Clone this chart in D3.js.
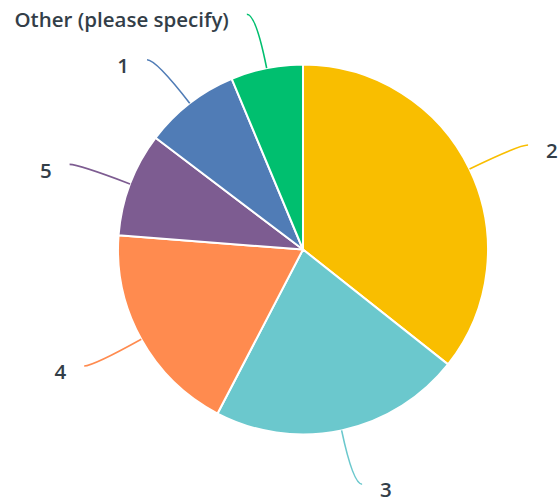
<!DOCTYPE html>
<html>
<head>
<meta charset="utf-8">
<script src="https://cdn.jsdelivr.net/npm/d3@7"></script>
<style>
  html, body { margin: 0; padding: 0; background: #fff; }
  svg { display: block; }
</style>
</head>
<body>
<svg id="chart" width="559" height="504"></svg>
<script>
const categories = ["2", "3", "4", "5", "1", "Other (please specify)"];
const values = [35.7, 22.0, 18.6, 9.1, 8.4, 6.3];
const colors = ["#F9BE00", "#6BC8CD", "#FF8B4F", "#7D5C91", "#507CB6", "#00BF6F"];

const W = 559, H = 504;
const cx = 303, cy = 249.5, R = 185;

const svg = d3.select("#chart");
const g = svg.append("g").attr("transform", `translate(${cx},${cy})`);

const data = categories.map((c, i) => ({ cat: c, value: values[i], color: colors[i] }));

const pie = d3.pie().sort(null).value(d => d.value).startAngle(0).endAngle(2 * Math.PI);
const arcs = pie(data);
const arc = d3.arc().innerRadius(0).outerRadius(R);

g.selectAll("path.slice")
  .data(arcs)
  .enter().append("path")
  .attr("class", "slice")
  .attr("d", arc)
  .attr("fill", d => d.data.color)
  .attr("stroke", "#fff")
  .attr("stroke-width", 2)
  .attr("stroke-linejoin", "round");

function polar(r, a) { return [r * Math.sin(a), -r * Math.cos(a)]; }

const rEnd = 240, shift = 9, gap = 18;
arcs.forEach(d => {
  const a = (d.startAngle + d.endAngle) / 2;
  const right = Math.sin(a) >= 0;
  const p0 = polar(R, a);
  const c1 = polar(rEnd, a);
  const p2 = [c1[0] + (right ? shift : -shift), c1[1]];
  const path = d3.path();
  path.moveTo(p0[0], p0[1]);
  path.quadraticCurveTo(c1[0], c1[1], p2[0], p2[1]);
  g.append("path")
    .attr("d", path.toString())
    .attr("fill", "none")
    .attr("stroke", d.data.color)
    .attr("stroke-width", 1.6);
  g.append("text")
    .attr("x", p2[0] + (right ? gap : -gap))
    .attr("y", p2[1] + 6)
    .attr("dy", "0.35em")
    .attr("text-anchor", right ? "start" : "end")
    .attr("font-family", "'Open Sans', sans-serif")
    .attr("font-weight", 600)
    .attr("font-size", 20.5)
    .attr("fill", "#333E48")
    .text(d.data.cat);
});
</script>
</body>
</html>
